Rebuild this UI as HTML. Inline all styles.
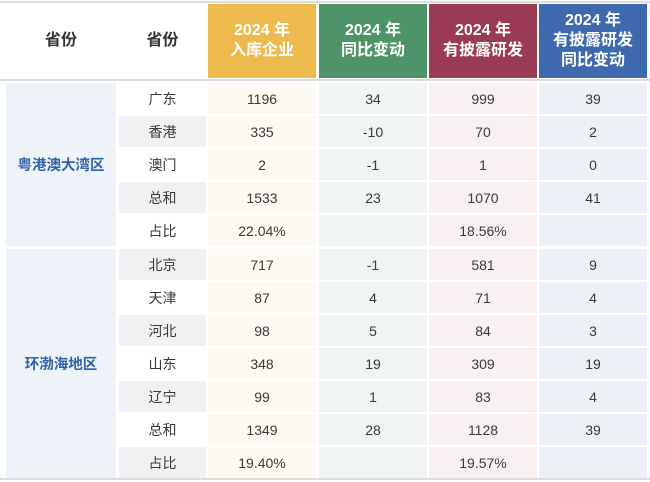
<!DOCTYPE html>
<html><head><meta charset="utf-8"><style>
body{margin:0;background:#fff;width:650px;height:482px;overflow:hidden;font-family:"Liberation Sans","Noto Sans CJK SC",sans-serif;}
.c{position:absolute;display:flex;align-items:center;justify-content:center;text-align:center;box-sizing:border-box;}
.h{color:#fff;font-weight:bold;font-size:16px;line-height:20px;}
.d{font-size:14px;color:#3a3a3a;}
.r{background:#eef2f9;color:#2f62a6;font-weight:bold;font-size:14.5px;}
.line{position:absolute;left:0;width:650px;background:#dcdcdc;}
</style></head><body>
<div class="line" style="top:1px;height:2px"></div>
<div class="line" style="top:79px;height:2px"></div>
<div class="line" style="top:478px;height:2px"></div>
<div id="t"></div>
<script>
const cols=[[6,110],[119,87],[208,108],[319,108],[429,108],[539,108]];
const headers=["省份","省份","2024 年<br>入库企业","2024 年<br>同比变动","2024 年<br>有披露研发","2024 年<br>有披露研发<br>同比变动"];
const headerBg=["#fff","#fff","#EDBA4E","#4E9468","#9B3A55","#3E69AD"];
const tints=["","","#fdfaf2","#f1f5f1","#f9f0f2","#edf0f7"];
const regions=["粤港澳大湾区","环渤海地区"];
const names=["广东","香港","澳门","总和","占比","北京","天津","河北","山东","辽宁","总和","占比"];
const colA=["1196","335","2","1533","22.04%","717","87","98","348","99","1349","19.40%"];
const colB=["34","-10","-1","23","","-1","4","5","19","1","28",""];
const colC=["999","70","1","1070","18.56%","581","71","84","309","83","1128","19.57%"];
const colD=["39","2","0","41","","9","4","3","19","4","39",""];
const t=document.getElementById('t');
function cell(x,y,w,h,cls,bg,html,name){const e=document.createElement('div');e.className='c '+cls;e.style.cssText=`left:${x}px;top:${y}px;width:${w}px;height:${h}px;background:${bg}`;e.innerHTML=html;


t.appendChild(e);}
headers.forEach((h,i)=>cell(cols[i][0],4,cols[i][1],74,'h',headerBg[i],h,'header-'+i));
document.querySelectorAll('.h')[0].style.color='#333';document.querySelectorAll('.h')[1].style.color='#333';
function rowY(i){return 83+33*i+(i>=5?1:0);}
cell(cols[0][0],rowY(0),cols[0][1],rowY(4)+31-rowY(0),'r','#eef2f9',regions[0],'region-greater-bay');
cell(cols[0][0],rowY(5),cols[0][1],rowY(11)+31-rowY(5),'r','#eef2f9',regions[1],'region-bohai');
const vals=[colA,colB,colC,colD];
names.forEach((n,i)=>{const y=rowY(i);
cell(cols[1][0],y,cols[1][1],31,'d',i%2?'#f0f1f3':'#fff',n,'province-'+i);
vals.forEach((v,j)=>cell(cols[j+2][0],y,cols[j+2][1],31,'d',tints[j+2],v[i],'value-'+i+'-'+j));});
</script>
</body></html>
